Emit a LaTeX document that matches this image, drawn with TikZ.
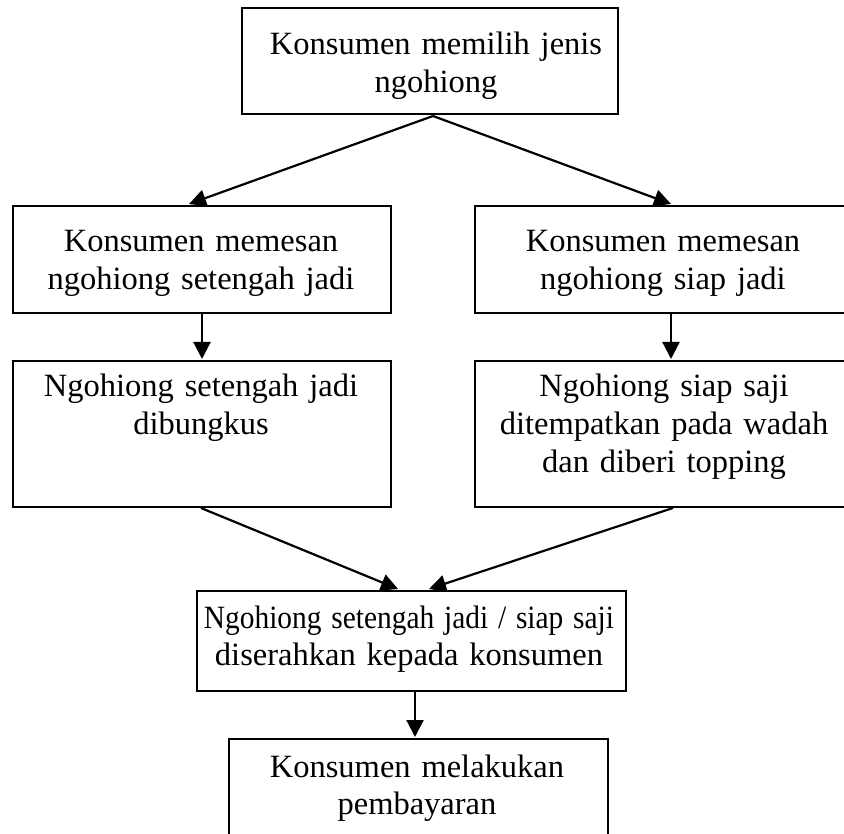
\documentclass[tikz,border=0pt]{standalone}
\usepackage{fontspec}
\usepackage{graphicx}
\setmainfont{Liberation Serif}
\usetikzlibrary{arrows.meta,calc}
\hyphenpenalty=10000
\exhyphenpenalty=10000
\begin{document}
\begin{tikzpicture}[x=1pt,y=-1pt,
  box/.style={draw,line width=2pt,inner sep=0pt,anchor=north west},
  txt/.style={anchor=base,align=center,text width=520pt,inner sep=0pt,font=\fontsize{32.5}{37.8}\selectfont},
  arr/.style={line width=2.2pt,-{Triangle[length=17pt,width=17pt]}}]
\useasboundingbox (0,0) rectangle (844,834);
\clip (0,0) rectangle (844,834);
\node[box,minimum width=376pt,minimum height=106pt] (b1) at (241,7) {};
\node[box,minimum width=378pt,minimum height=107pt] (b2l) at (12,205) {};
\node[box,minimum width=392pt,minimum height=107pt] (b2r) at (474,205) {};
\node[box,minimum width=378pt,minimum height=146pt] (b3l) at (12,360) {};
\node[box,minimum width=392pt,minimum height=146pt] (b3r) at (474,360) {};
\node[box,minimum width=429pt,minimum height=100pt] (b5) at (196,590) {};
\node[box,minimum width=379pt,minimum height=130pt] (b6) at (228,738) {};
\node[txt] (t1) at (436,55) {Konsumen memilih jenis\\ngohiong};
\node[txt] (t2l) at (201,252) {Konsumen memesan\\ngohiong setengah jadi};
\node[txt] (t2r) at (663,252) {Konsumen memesan\\ngohiong siap jadi};
\node[txt] (t3l) at (201,397) {Ngohiong setengah jadi\\dibungkus};
\node[txt] (t3r) at (664,397) {Ngohiong siap saji\\ditempatkan pada wadah\\dan diberi topping};
\node[txt] (t5) at (409,628) {\scalebox{0.905}[1]{Ngohiong setengah jadi / siap saji}\\diserahkan kepada konsumen};
\node[txt] (t6) at (417,777) {Konsumen melakukan\\pembayaran};
\coordinate (s1) at ($(b1.south)+(3,1)$);
\coordinate (e2l) at ($(b2l.north)+(-13,-1)$);
\coordinate (e2r) at ($(b2r.north)+(0,-1)$);
\draw[arr] (s1) -- (e2l);
\draw[arr] (s1) -- (e2r);
\draw[arr] (b2l.south) -- ($(b3l.north)+(0,-1)$);
\draw[arr] (b2r.south) -- ($(b3r.north)+(0,-1)$);
\coordinate (s3l) at ($(b3l.south)+(-1,0)$);
\coordinate (s3r) at ($(b3r.south)+(2,0)$);
\coordinate (e5l) at ($(b5.north)+(-13.5,-1)$);
\coordinate (e5r) at ($(b5.north)+(17.5,-1)$);
\draw[arr] (s3l) -- (e5l);
\draw[arr] (s3r) -- (e5r);
\coordinate (s5) at ($(b5.south)+(3.5,0)$);
\coordinate (e6) at ($(b6.north)+(-3.5,-1)$);
\draw[arr] (s5) -- (e6);
\end{tikzpicture}
\end{document}
